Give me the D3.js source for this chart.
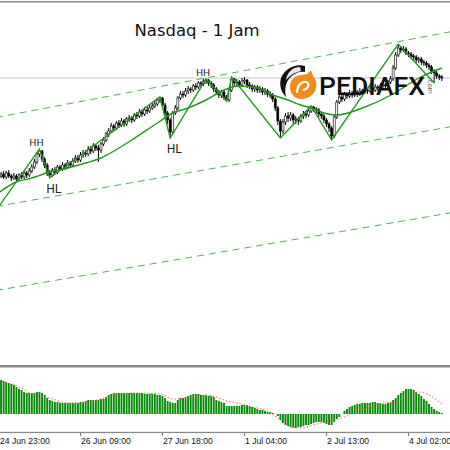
<!DOCTYPE html>
<html>
<head>
<meta charset="utf-8">
<script src="https://cdn.jsdelivr.net/npm/d3@7"></script>
<style>
  body { margin: 0; background: #fff; }
  svg { display: block; }
</style>
</head>
<body>
<svg></svg>
<script>
var width = 450,
    height = 450;

// hourly candles, one per bar (price)
var firstOpen = 7722;
var closes = [
  7724,7726,7723,7727,7724,7722,7724,7721,7725,7723,7727,7725,7729,
  7733,7738,7746,7749,7741,7735,7727,7725,
  7730,7728,7733,7731,7735,7733,7737,7735,7739,7742,7740,7745,7747,7746,7751,7749,7754,7752,7750,7756,
  7760,7766,7769,7774,7772,7777,7775,7779,7776,7781,7782,7780,7785,7784,7788,7786,7790,7789,7792,7794,7796,7800,7802,
  7795,7787,7780,7768,7787,7792,7802,7806,7805,7809,7811,7810,7814,7813,7817,7816,7819,7820,
  7817,7815,7811,7808,7805,7808,7803,7800,7810,7821,
  7817,7818,7815,7819,7820,7815,7814,7811,7813,7810,7811,7808,7809,7806,7805,7801,
  7792,7779,7769,7778,7784,7782,7785,7780,7781,7779,7784,7786,7785,7789,7793,7791,7790,7786,7784,7780,7776,7772,7764,
  7783,7798,7803,7801,7805,7804,7807,7805,7808,7806,7809,7808,7810,7809,7812,7810,7813,7812,7814,7815,7814,7818,7821,
  7832,7845,7852,7850,7851,7847,7846,7844,7843,7840,7841,7838,7837,7835,7833,7829,7827,7824,7823,7822
];
var highs = [
  7727,7728,7729,7729,7730,7726,7727,7726,7727,7728,7730,7729,7732,
  7736,7741,7748,7751,7750,7743,7737,7730,
  7732,7733,7735,7735,7738,7737,7740,7739,7742,7745,7745,7748,7750,7750,7754,7754,7757,7756,7755,7758,
  7763,7768,7772,7777,7776,7779,7780,7782,7781,7783,7785,7784,7787,7788,7791,7790,7793,7793,7795,7797,7799,7802,7803,
  7803,7797,7789,7782,7789,7795,7804,7809,7809,7812,7814,7813,7816,7817,7819,7819,7821,7821,
  7821,7819,7817,7813,7810,7810,7810,7805,7812,7823,
  7822,7821,7820,7822,7823,7821,7818,7816,7815,7815,7814,7813,7812,7811,7809,7807,
  7803,7794,7781,7781,7787,7788,7788,7787,7784,7783,7786,7789,7789,7791,7794,7794,7793,7792,7788,7786,7782,7778,7774,
  7785,7800,7806,7805,7808,7807,7810,7809,7811,7810,7812,7811,7813,7812,7815,7814,7816,7815,7817,7818,7817,7820,7824,
  7835,7848,7856,7854,7854,7853,7849,7848,7846,7845,7843,7843,7840,7839,7837,7835,7831,7829,7826,7825
];
var lows = [
  7720,7722,7721,7721,7722,7719,7720,7718,7719,7721,7721,7722,7723,
  7727,7731,7736,7743,7738,7732,7724,7722,
  7723,7726,7726,7729,7729,7730,7731,7732,7733,7737,7737,7738,7742,7743,7744,7746,7747,7749,7738,7747,
  7754,7758,7763,7767,7769,7770,7772,7773,7773,7774,7778,7777,7778,7781,7782,7783,7784,7786,7787,7790,7792,7794,7797,
  7792,7784,7776,7762,7766,7785,7790,7800,7802,7803,7806,7807,7808,7810,7811,7813,7814,7816,
  7814,7812,7808,7805,7802,7802,7800,7799,7798,7808,
  7814,7814,7812,7813,7816,7812,7811,7808,7808,7807,7807,7805,7805,7803,7802,7798,
  7789,7775,7762,7766,7775,7778,7779,7776,7776,7775,7777,7781,7782,7783,7787,7788,7787,7783,7781,7777,7773,7768,7760,
  7762,7781,7796,7798,7799,7801,7802,7802,7803,7803,7804,7805,7806,7806,7807,7807,7808,7809,7810,7811,7811,7812,7816,
  7819,7830,7843,7847,7848,7845,7843,7841,7840,7837,7837,7835,7834,7832,7830,7826,7817,7821,7820,7819
];

// moving average (bar, price)
var maBars = [0,6,13,20,27,34,40,43,52,62,68,74,81,88,94,101,107,113,118,122,127,132,143,154,164,173];
var maVals = [7707,7717,7722,7728,7732,7737,7742,7746,7760,7777,7787,7792,7800,7810,7814,7812,7805,7800,7795,7792,7787,7785,7793,7806,7822,7832];

// zigzag pivots
var zigBars = [0,16,20,63,67,81,89,91,110,122,130,156,170];
var zigVals = [7693,7751,7722,7803,7762,7821,7799,7823,7762,7794,7760,7856,7817];

// swing labels
var swingText = ["HH","HL","HL","HH"];
var swingBars = [16,20,67,81];
var swingVals = [7751,7722,7762,7821];

// channel lines (two ends each)
var channelBars = [-1,177];
var channelUpper = [7782.5,7868.5];
var channelMid = [7693.5,7773.5];
var channelLower = [7609.5,7687.4];

var bidPrice = 7822;

// MACD histogram, one per bar
var macdHist = [
  34,34,33,32,31,30,29,27,25,24,22,21,21,21,21,22,22,21,19,16,
  14,13,12,12,11,11,11,11,11,11,11,11,12,12,13,14,14,14,14,14,
  15,15,17,19,20,21,21,21,21,21,21,21,21,21,21,21,21,20,20,20,
  20,20,19,19,18,16,13,12,11,11,14,16,16,17,18,19,20,20,20,19,
  19,19,18,18,17,14,13,12,11,8,8,8,8,8,8,9,9,9,8,7,
  6,5,4,4,3,2,2,1,0,-2,-6,-9,-11,-12,-13,-14,-14,-13,-13,-12,
  -11,-11,-10,-9,-8,-8,-8,-9,-10,-11,-11,-8,-5,-3,0,3,5,7,8,9,
  10,10,11,11,11,11,12,12,11,11,10,10,11,12,14,16,19,21,23,25,
  25,25,24,22,20,18,15,13,10,7,5,3,2,1
];
// MACD signal (bar, value)
var sigBars = [0,4,8,13,20,27,32,40,45,52,63,68,74,81,86,88,93,99,104,109,114,118,123,127,131,136,140,144,150,155,160,164,168,171,173];
var sigVals = [33,31,27,20,16,11,11,15,19,21,20,15,16,19,16,14,11,7,4,-4,-13,-14,-11,-8,-6,-2,4,7,11,12,19,22,19,14,10];

var tickBars = [0,32,64,96,128,160];
var tickLabels = ["24 Jun 23:00","26 Jun 09:00","27 Jun 18:00","1 Jul 04:00","2 Jul 13:00","4 Jul 02:00"];

var svg = d3.select("svg")
  .attr("width", width)
  .attr("height", height);

var x = d3.scaleLinear().domain([0, 32]).range([-1.5, 80.5]);
var y = d3.scaleLinear().domain([7536, 7898]).range([364, 2]);
var ym = d3.scaleLinear().domain([-18, 48]).range([432, 366]);

svg.append("clipPath").attr("id", "mainClip")
  .append("rect").attr("x", 0).attr("y", 3).attr("width", width).attr("height", 361);

var main = svg.append("g").attr("clip-path", "url(#mainClip)");

// frame lines
svg.append("rect").attr("x", 0).attr("y", 1).attr("width", width).attr("height", 1.5).attr("fill", "#8a8a8a");
svg.append("rect").attr("x", 0).attr("y", 365).attr("width", width).attr("height", 2.5).attr("fill", "#8a8a8a");
svg.append("rect").attr("x", 0).attr("y", 431.8).attr("width", width).attr("height", 1.3).attr("fill", "#8a8a8a");

// bid line
main.append("line")
  .attr("x1", 0).attr("x2", width)
  .attr("y1", y(bidPrice)).attr("y2", y(bidPrice))
  .attr("stroke", "#c4c4c4").attr("stroke-width", 1);

// channel
[channelUpper, channelMid, channelLower].forEach(function(c) {
  main.append("line")
    .attr("x1", x(channelBars[0])).attr("y1", y(c[0]))
    .attr("x2", x(channelBars[1])).attr("y2", y(c[1]))
    .attr("stroke", "#4cb84c")
    .attr("stroke-width", 1)
    .attr("stroke-dasharray", "7,5");
});

// candles
var candles = main.append("g").attr("class", "candles")
  .selectAll("g")
  .data(closes)
  .enter().append("g");

candles.append("line")
  .attr("x1", function(d, i) { return x(i); })
  .attr("x2", function(d, i) { return x(i); })
  .attr("y1", function(d, i) { return y(highs[i]); })
  .attr("y2", function(d, i) { return y(lows[i]); })
  .attr("stroke", "#000")
  .attr("stroke-width", 1);

candles.append("rect")
  .attr("x", function(d, i) { return x(i) - 1; })
  .attr("width", 2)
  .attr("y", function(d, i) {
    var o = i == 0 ? firstOpen : closes[i - 1];
    return y(Math.max(o, d));
  })
  .attr("height", function(d, i) {
    var o = i == 0 ? firstOpen : closes[i - 1];
    return Math.max(0.8, Math.abs(y(o) - y(d)));
  })
  .attr("fill", function(d, i) {
    var o = i == 0 ? firstOpen : closes[i - 1];
    return d >= o ? "#fff" : "#000";
  })
  .attr("stroke", "#000")
  .attr("stroke-width", 0.6);

// moving average
var maLine = d3.line()
  .x(function(d) { return x(d[0]); })
  .y(function(d) { return y(d[1]); })
  .curve(d3.curveMonotoneX);

main.append("path")
  .datum(d3.zip(maBars, maVals))
  .attr("d", maLine)
  .attr("fill", "none")
  .attr("stroke", "#1f9a1f")
  .attr("stroke-width", 1.4);

// zigzag
var zigLine = d3.line()
  .x(function(d) { return x(d[0]); })
  .y(function(d) { return y(d[1]); });

main.append("path")
  .datum(d3.zip(zigBars, zigVals))
  .attr("d", zigLine)
  .attr("fill", "none")
  .attr("stroke", "#1f9a1f")
  .attr("stroke-width", 1.4);

// swing labels
main.selectAll("text.swing")
  .data(swingText)
  .enter().append("text")
  .attr("class", "swing")
  .attr("x", function(d, i) { return x(swingBars[i]) + (d == "HH" ? -3 : 4); })
  .attr("y", function(d, i) { return y(swingVals[i]) + (d == "HH" ? -3 : 15); })
  .attr("text-anchor", "middle")
  .attr("font-family", "DejaVu Sans, sans-serif")
  .attr("font-size", function(d) { return d == "HH" ? 9.5 : 11.5; })
  .attr("fill", "#1c1c1c")
  .text(function(d) { return d; });

// title
svg.append("text")
  .attr("x", 197)
  .attr("y", 36)
  .attr("text-anchor", "middle")
  .attr("font-family", "DejaVu Sans, sans-serif")
  .attr("font-size", 16)
  .attr("textLength", 125)
  .attr("lengthAdjust", "spacingAndGlyphs")
  .attr("fill", "#111")
  .text("Nasdaq - 1 Jam");

// logo
var logo = svg.append("g").attr("class", "logo");
logo.append("path")
  .attr("d", "M305,66 C296,63 285,68 281,78 C279,85 281,92 286,97 C284,88 286,80 293,75 C297,72 301,71 305,72 Z")
  .attr("fill", "#111");
logo.append("path")
  .attr("d", "M300,67 C292,67 287,73 286,80 C290,75 295,72 301,71 Z")
  .attr("fill", "#fff").attr("opacity", 0.9);
logo.append("path")
  .attr("d", "M290,87 C290,80 295,75 302,75 L307,74 L311,70 L313,76 C317,80 317,87 315,91 C312,97 306,99 301,99 C294,99 290,93 290,87 Z")
  .attr("fill", "#f28a1e");
logo.append("path")
  .attr("d", "M297,93 C297,85 302,81 306,82 C310,83 309,89 303,90")
  .attr("fill", "none").attr("stroke", "#fff").attr("stroke-width", 2.2);
logo.append("text")
  .attr("x", 319)
  .attr("y", 94.5)
  .attr("font-family", "Roboto, sans-serif")
  .attr("font-weight", 500)
  .attr("font-size", 26.5)
  .attr("textLength", 106)
  .attr("lengthAdjust", "spacingAndGlyphs")
  .attr("fill", "#111")
  .text("PEDIAFX");
logo.append("text")
  .attr("transform", "translate(428,78) rotate(90)")
  .attr("font-family", "DejaVu Sans, sans-serif")
  .attr("font-size", 6.5)
  .attr("fill", "#555")
  .text(".com");

// MACD histogram
svg.append("g").attr("class", "macd")
  .selectAll("rect")
  .data(macdHist)
  .enter().append("rect")
  .attr("x", function(d, i) { return x(i) - 0.95; })
  .attr("width", 1.9)
  .attr("y", function(d) { return d >= 0 ? ym(d) : ym(0); })
  .attr("height", function(d) { return Math.abs(ym(d) - ym(0)); })
  .attr("fill", "#078a07");

var sigLine = d3.line()
  .x(function(d) { return x(d[0]); })
  .y(function(d) { return ym(d[1]); })
  .curve(d3.curveMonotoneX);

svg.append("path")
  .datum(d3.zip(sigBars, sigVals))
  .attr("d", sigLine)
  .attr("fill", "none")
  .attr("stroke", "#ff5a5a")
  .attr("stroke-width", 1)
  .attr("stroke-dasharray", "1.5,2");

// time axis
var axis = svg.append("g").attr("class", "time-axis");
axis.selectAll("line")
  .data(tickBars)
  .enter().append("line")
  .attr("x1", function(d) { return x(d); })
  .attr("x2", function(d) { return x(d); })
  .attr("y1", 433).attr("y2", 436)
  .attr("stroke", "#777");
axis.selectAll("text")
  .data(tickLabels)
  .enter().append("text")
  .attr("x", function(d, i) { return Math.max(0, x(tickBars[i]) + 0.5); })
  .attr("y", 444)
  .attr("font-family", "Liberation Sans, Arial, sans-serif")
  .attr("font-size", 8.6)
  .attr("fill", "#111")
  .text(function(d) { return d; });
</script>
</body>
</html>
